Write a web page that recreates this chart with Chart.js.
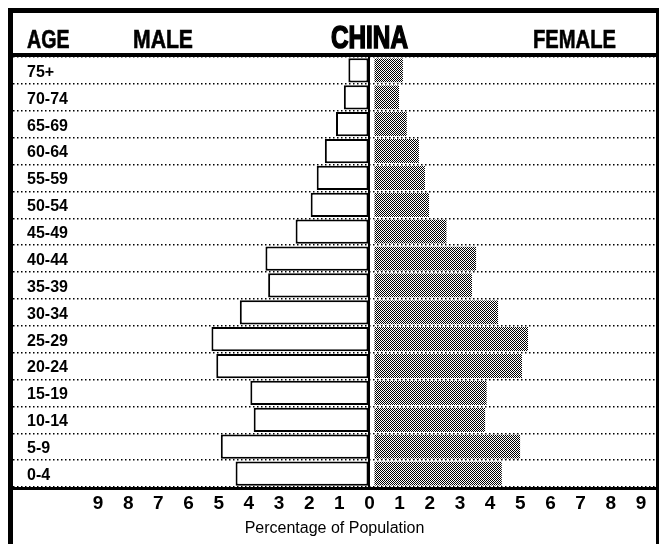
<!DOCTYPE html>
<html><head><meta charset="utf-8">
<script src="https://cdn.jsdelivr.net/npm/chart.js@4"></script>
<style>html,body{margin:0;padding:0;background:#fff;} canvas{display:block;}</style>
</head><body>
<canvas id="c" width="661" height="544"></canvas>
<script>
// ---- data ----
const ageGroups = ['75+','70-74','65-69','60-64','55-59','50-54','45-49','40-44','35-39','30-34','25-29','20-24','15-19','10-14','5-9','0-4'];
const malePct   = [0.70,0.85,1.11,1.48,1.75,1.95,2.45,3.45,3.36,4.30,5.24,5.08,3.95,3.84,4.93,4.44];
const femalePct = [1.11,0.98,1.24,1.64,1.84,1.98,2.56,3.54,3.40,4.27,5.26,5.06,3.89,3.84,5.00,4.39];
const xTickValues = [-9,-8,-7,-6,-5,-4,-3,-2,-1,0,1,2,3,4,5,6,7,8,9];
const headerAge = 'AGE';
const headerMale = 'MALE';
const headerTitle = 'CHINA';
const headerFemale = 'FEMALE';
const axisTitle = 'Percentage of Population';

// ---- styles ----
const SANS = '"Liberation Sans", Arial, sans-serif';

const canvas = document.getElementById('c');
const ctx0 = canvas.getContext('2d');
const pc = document.createElement('canvas'); pc.width = 2; pc.height = 2;
const pg = pc.getContext('2d');
pg.fillStyle = '#fff'; pg.fillRect(0,0,2,2);
pg.fillStyle = '#000'; pg.fillRect(0,0,1,1); pg.fillRect(1,1,1,1);
const stipple = ctx0.createPattern(pc, 'repeat');

function fitText(ctx, text, x, y, targetW, align, stroke) {
  const w = ctx.measureText(text).width;
  const s = targetW / w;
  ctx.save();
  ctx.translate(x, y);
  ctx.scale(s, 1);
  ctx.textAlign = align;
  ctx.fillText(text, 0, 0);
  if (stroke) { ctx.lineWidth = stroke; ctx.strokeText(text, 0, 0); }
  ctx.restore();
}

const framePlugin = {
  id: 'frame',
  afterDraw(chart) {
    const ctx = chart.ctx, a = chart.chartArea;
    ctx.save();
    ctx.fillStyle = '#000';
    ctx.strokeStyle = '#000';
    ctx.fillRect(8, 8, 651, 5);          // top border
    ctx.fillRect(8, 8, 5, 536);          // left border
    ctx.fillRect(656, 8, 3, 536);        // right border
    ctx.fillRect(a.left, a.top - 4, a.right - a.left, 4);   // header rule
    ctx.fillRect(a.left, a.bottom, a.right - a.left, 3);    // bottom rule
    ctx.textBaseline = 'alphabetic';
    ctx.font = 'bold 26px ' + SANS;
    fitText(ctx, headerAge, 27, 48, 42.5, 'left', 0.6);
    fitText(ctx, headerMale, 133, 48, 60, 'left', 0.6);
    fitText(ctx, headerFemale, 533, 48, 83, 'left', 0.6);
    ctx.font = 'bold 32px ' + SANS;
    const zx = chart.scales.x.getPixelForValue(0);
    fitText(ctx, headerTitle, zx, 48, 77, 'center', 1.6);
    ctx.restore();
  }
};

new Chart(canvas, {
  type: 'bar',
  data: {
    labels: ageGroups,
    datasets: [
      {
        label: 'Male',
        data: malePct.map(v => -v),
        backgroundColor: '#fff',
        borderColor: '#000',
        borderWidth: 2,
        borderSkipped: false,
        grouped: false,
        barPercentage: 0.9,
        categoryPercentage: 1
      },
      {
        label: 'Female',
        data: femalePct,
        backgroundColor: stipple,
        borderColor: '#fff',
        borderWidth: {left: 4, right: 0, top: 0, bottom: 0},
        borderSkipped: false,
        grouped: false,
        barPercentage: 0.9,
        categoryPercentage: 1
      }
    ]
  },
  options: {
    indexAxis: 'y',
    responsive: false,
    animation: false,
    devicePixelRatio: 1,
    layout: { padding: { left: 13, top: 57, right: 5, bottom: 0 } },
    plugins: { legend: { display: false }, tooltip: { enabled: false }, title: { display: false } },
    scales: {
      x: {
        type: 'linear',
        min: -11.82,
        max: 9.5,
        afterBuildTicks: (s) => { s.ticks = xTickValues.map(v => ({ value: v })); },
        afterFit: (s) => { s.height = 57; },
        grid: {
          drawTicks: false,
          lineWidth: 2,
          color: (c) => (c.tick && c.tick.value === 0) ? '#000' : 'rgba(0,0,0,0)'
        },
        border: { display: false },
        ticks: {
          autoSkip: false,
          maxRotation: 0,
          padding: 5,
          color: '#000',
          font: { family: SANS, size: 19, weight: 'bold' },
          callback: (v) => Math.abs(v)
        },
        title: {
          display: true,
          text: axisTitle,
          color: '#000',
          font: { family: SANS, size: 16, weight: 'normal' },
          padding: { top: 0, bottom: 6 }
        }
      },
      y: {
        type: 'category',
        afterFit: (s) => { s.width = 0; },
        grid: { drawTicks: false, color: '#000', lineWidth: 1.5 },
        border: { display: false, dash: [1.5, 2.5] },
        ticks: {
          mirror: true,
          padding: 14,
          labelOffset: 2,
          color: '#000',
          font: { family: SANS, size: 16, weight: 'bold' }
        }
      }
    }
  },
  plugins: [framePlugin]
});
</script>
</body></html>
